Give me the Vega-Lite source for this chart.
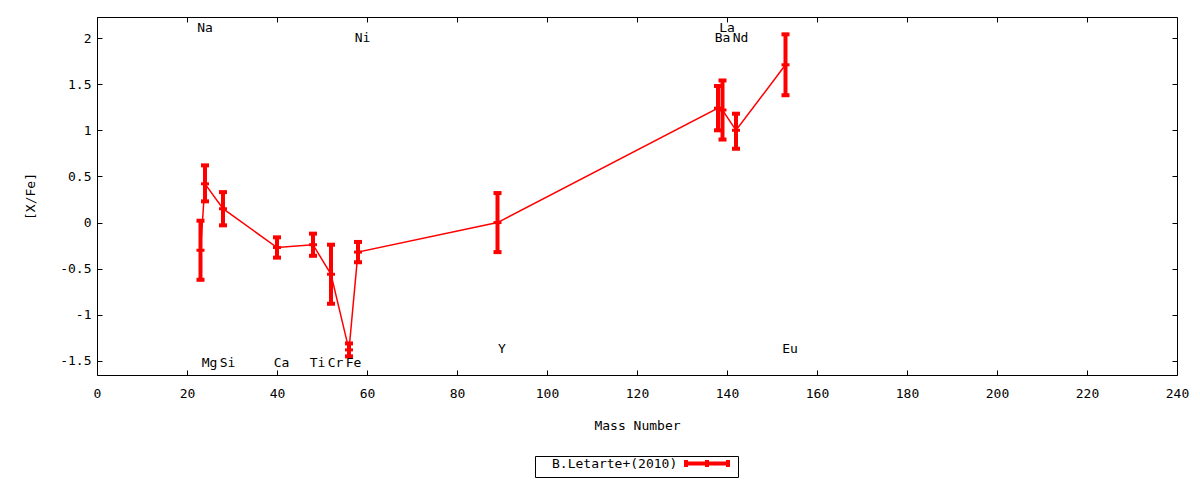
{
  "$schema": "https://vega.github.io/schema/vega-lite/v6.json",
  "width": 1080,
  "height": 358,
  "autosize": "none",
  "padding": {"left": 97, "top": 17, "right": 23, "bottom": 105},
  "background": "white",
  "config": {
    "font": "DejaVu Sans Mono",
    "view": {"stroke": "black", "strokeWidth": 1},
    "axis": {
      "domain": false,
      "grid": false,
      "tickColor": "black",
      "tickSize": -5,
      "tickWidth": 1,
      "labelFont": "DejaVu Sans Mono",
      "labelFontSize": 13,
      "labelColor": "black",
      "titleFont": "DejaVu Sans Mono",
      "titleFontSize": 13,
      "titleFontWeight": "normal",
      "titleColor": "black"
    },
    "legend": {
      "labelFont": "DejaVu Sans Mono",
      "labelFontSize": 13,
      "labelColor": "black"
    }
  },
  "datasets": {
    "abund": [
      {"el": "Na", "mass": 23, "val": -0.30, "lo": -0.62, "hi": 0.02},
      {"el": "Mg", "mass": 24, "val": 0.42, "lo": 0.23, "hi": 0.62},
      {"el": "Si", "mass": 28, "val": 0.15, "lo": -0.03, "hi": 0.33},
      {"el": "Ca", "mass": 40, "val": -0.27, "lo": -0.38, "hi": -0.16},
      {"el": "Ti", "mass": 48, "val": -0.24, "lo": -0.36, "hi": -0.12},
      {"el": "Cr", "mass": 52, "val": -0.56, "lo": -0.88, "hi": -0.24},
      {"el": "Fe", "mass": 56, "val": -1.38, "lo": -1.45, "hi": -1.31},
      {"el": "Ni", "mass": 58, "val": -0.32, "lo": -0.43, "hi": -0.21},
      {"el": "Y", "mass": 89, "val": 0.00, "lo": -0.32, "hi": 0.32},
      {"el": "Ba", "mass": 138, "val": 1.24, "lo": 1.00, "hi": 1.48},
      {"el": "La", "mass": 139, "val": 1.22, "lo": 0.90, "hi": 1.54},
      {"el": "Nd", "mass": 142, "val": 1.00, "lo": 0.80, "hi": 1.18},
      {"el": "Eu", "mass": 153, "val": 1.71, "lo": 1.38, "hi": 2.04}
    ],
    "labels": [
      {"el": "Na", "mass": 23, "ly": 2.11},
      {"el": "Mg", "mass": 24, "ly": -1.52},
      {"el": "Si", "mass": 28, "ly": -1.52},
      {"el": "Ca", "mass": 40, "ly": -1.52},
      {"el": "Ti", "mass": 48, "ly": -1.52},
      {"el": "Cr", "mass": 52, "ly": -1.52},
      {"el": "Fe", "mass": 56, "ly": -1.52},
      {"el": "Ni", "mass": 58, "ly": 2.0},
      {"el": "Y", "mass": 89, "ly": -1.37},
      {"el": "Ba", "mass": 138, "ly": 2.0},
      {"el": "La", "mass": 139, "ly": 2.11},
      {"el": "Nd", "mass": 142, "ly": 2.0},
      {"el": "Eu", "mass": 153, "ly": -1.37}
    ]
  },
  "layer": [
    {
      "data": {"name": "abund"},
      "mark": {"type": "line", "strokeWidth": 1.5},
      "encoding": {
        "x": {
          "field": "mass", "type": "quantitative",
          "scale": {"domain": [0, 240], "nice": false, "zero": false},
          "axis": {
            "title": "Mass Number",
            "values": [0, 20, 40, 60, 80, 100, 120, 140, 160, 180, 200, 220, 240],
            "labelPadding": 17,
            "titlePadding": 19,
            "labelFlush": false
          }
        },
        "y": {
          "field": "val", "type": "quantitative",
          "scale": {"domain": [-1.652, 2.228], "nice": false, "zero": false},
          "axis": {
            "title": "[X/Fe]",
            "values": [-1.5, -1, -0.5, 0, 0.5, 1, 1.5, 2],
            "labelExpr": "datum.value + ''",
            "labelPadding": 11,
            "titlePadding": 22,
            "labelFlush": false
          }
        },
        "color": {
          "datum": "B.Letarte+(2010)",
          "type": "nominal",
          "scale": {"range": ["#ff0000"]},
          "legend": {
            "title": null,
            "orient": "none",
            "legendX": 438,
            "legendY": 439,
            "symbolType": "M-4.67,0H4.67M-4.67,-0.78V0.78M0,-0.78V0.78M4.67,-0.78V0.78",
            "symbolSize": 81,
            "symbolStrokeWidth": 4,
            "symbolStrokeColor": "#ff0000",
            "symbolOffset": 164.5,
            "labelOffset": -161.5,
            "strokeColor": "black",
            "padding": 1
          }
        }
      }
    },
    {
      "data": {"name": "abund"},
      "mark": {"type": "rule", "color": "#ff0000", "strokeWidth": 4, "opacity": 1},
      "encoding": {
        "x": {"field": "mass", "type": "quantitative", "axis": null},
        "y": {"field": "lo", "type": "quantitative", "axis": null},
        "y2": {"field": "hi"}
      }
    },
    {
      "data": {"name": "abund"},
      "mark": {"type": "tick", "color": "#ff0000", "orient": "horizontal", "size": 8, "thickness": 4, "opacity": 1},
      "encoding": {
        "x": {"field": "mass", "type": "quantitative", "axis": null},
        "y": {"field": "lo", "type": "quantitative", "axis": null}
      }
    },
    {
      "data": {"name": "abund"},
      "mark": {"type": "tick", "color": "#ff0000", "orient": "horizontal", "size": 8, "thickness": 4, "opacity": 1},
      "encoding": {
        "x": {"field": "mass", "type": "quantitative", "axis": null},
        "y": {"field": "hi", "type": "quantitative", "axis": null}
      }
    },
    {
      "data": {"name": "abund"},
      "mark": {"type": "tick", "color": "#ff0000", "orient": "horizontal", "size": 8, "thickness": 3, "opacity": 1},
      "encoding": {
        "x": {"field": "mass", "type": "quantitative", "axis": null},
        "y": {"field": "val", "type": "quantitative", "axis": null}
      }
    },
    {
      "data": {"name": "labels"},
      "mark": {"type": "text", "align": "center", "baseline": "middle", "dx": 4.5, "fontSize": 13, "font": "DejaVu Sans Mono", "color": "black"},
      "encoding": {
        "x": {
          "field": "mass", "type": "quantitative",
          "axis": {"orient": "top", "labels": false, "title": null, "values": [0, 20, 40, 60, 80, 100, 120, 140, 160, 180, 200, 220, 240]}
        },
        "y": {
          "field": "ly", "type": "quantitative",
          "axis": {"orient": "right", "labels": false, "title": null, "values": [-1.5, -1, -0.5, 0, 0.5, 1, 1.5, 2]}
        },
        "text": {"field": "el"}
      }
    }
  ],
  "resolve": {"axis": {"x": "independent", "y": "independent"}}
}
